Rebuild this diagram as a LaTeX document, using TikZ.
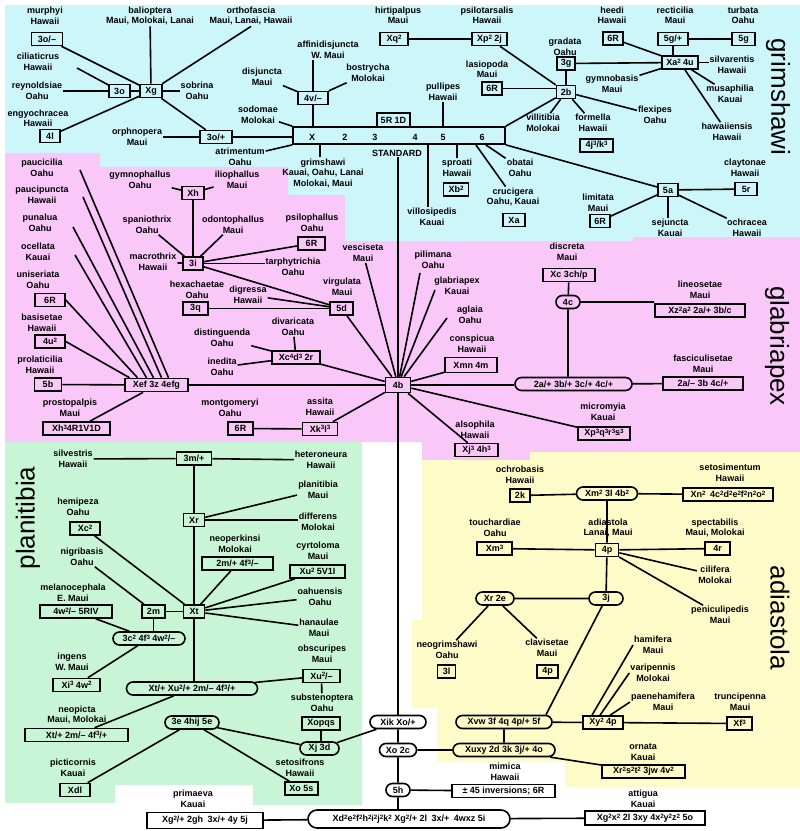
\documentclass[tikz,border=0pt]{standalone}
\usepackage{fontspec}
\setmainfont{Liberation Sans}
\usetikzlibrary{shapes.misc}
\newcommand\spx[1]{\raisebox{0.5ex}{\fontsize{6.2}{6.2}\selectfont #1}}
\newcommand\dlab{\bfseries\fontsize{9}{10.5}\selectfont}
\newcommand\grpfont{\fontsize{26}{26}\selectfont}
\definecolor{cyanbg}{RGB}{204,246,250}
\definecolor{pinkbg}{RGB}{249,200,249}
\definecolor{greenbg}{RGB}{200,245,214}
\definecolor{yellowbg}{RGB}{253,251,200}
\begin{document}
\begin{tikzpicture}[x=1pt,y=-1pt,
  lbl/.style={font=\dlab, align=center, inner sep=1pt},
  bx/.style={draw, line width=1.6pt, font=\dlab, inner xsep=2pt, inner ysep=1pt, minimum height=13pt},
  ov/.style={draw, rounded rectangle, line width=1.6pt, font=\dlab, inner xsep=3pt, inner ysep=1pt, minimum height=13pt},
  ln/.style={line width=1.6pt},
  grp/.style={font=\grpfont, inner sep=0pt}]
\useasboundingbox (0,0) rectangle (800,831);

% species-group backgrounds
\fill[cyanbg] (5,5) -- (800,5) -- (800,237) -- (633,237) -- (633,241) -- (345,241) -- (345,195) -- (288,195) -- (288,167) -- (100,167) -- (100,153) -- (5,153) -- cycle;
\fill[pinkbg] (5,153) -- (100,153) -- (100,167) -- (288,167) -- (288,195) -- (345,195) -- (345,241) -- (633,241) -- (633,237) -- (800,237) -- (800,452) -- (530,452) -- (530,460) -- (422,460) -- (422,442) -- (5,442) -- cycle;
\fill[greenbg] (5,442) -- (362,442) -- (362,805) -- (253,805) -- (253,785) -- (115,785) -- (115,803) -- (5,803) -- cycle;
\fill[yellowbg] (422,460) -- (530,460) -- (530,452) -- (800,452) -- (800,787) -- (565,787) -- (565,762) -- (437,762) -- (437,708) -- (412,708) -- (412,620) -- (422,620) -- cycle;

% group names
\node[grp,rotate=-90] (ggrim) at (778,97) {grimshawi};
\node[grp,rotate=-90] (gglab) at (777,346) {glabriapex};
\node[grp,rotate=-90] (gadia) at (780,618) {adiastola};
\node[grp,rotate=90] (gplan) at (28,518) {planitibia};

% ---------------- grimshawi ----------------
\node[lbl] (lmurphyi) at (45,16) {murphyi\\Hawaii};
\node[bx,minimum width=31pt] (bmurphyi) at (47,39) {3o/--};
\node[lbl] (lbalioptera) at (150,16) {balioptera\\Maui, Molokai, Lanai};
\node[lbl] (lorthofascia) at (251,16) {orthofascia\\Maui, Lanai, Hawaii};
\node[lbl] (lciliaticrus) at (38,62) {ciliaticrus\\Hawaii};
\node[lbl] (lreynoldsiae) at (37,91) {reynoldsiae\\Oahu};
\node[bx,minimum width=21pt] (bthreeo) at (119.5,91) {3o};
\node[bx,minimum width=22pt] (bxg) at (151,91) {Xg};
\node[lbl] (lsobrina) at (197,91) {sobrina\\Oahu};
\node[lbl] (lengyochracea) at (38,118.5) {engyochracea\\Hawaii};
\node[bx,minimum width=20pt] (bfourl) at (50,136) {4l};
\node[lbl] (lorphnopera) at (137,137) {orphnopera\\Maui};
\node[bx,minimum width=32pt] (bthreeop) at (216,137) {3o/+};
\node[lbl] (latrimentum) at (240,157) {atrimentum\\Oahu};
\node[lbl] (lsodomae) at (258,115) {sodomae\\Molokai};
\node[lbl] (ldisjuncta) at (262,77) {disjuncta\\Maui};
\node[lbl] (laffinis) at (328,50) {affinidisjuncta\\W. Maui};
\node[bx,minimum width=30pt] (bfourv) at (313,98) {4v/--};
\node[lbl] (lbostrycha) at (368,73) {bostrycha\\Molokai};
\node[lbl] (lhirtipalpus) at (398,15.5) {hirtipalpus\\Maui};
\node[bx,minimum width=28pt] (bxq) at (394,39) {Xq\spx{2}};
\node[lbl] (lpsilotarsalis) at (487,15.5) {psilotarsalis\\Hawaii};
\node[bx,minimum width=35pt] (bxp) at (489.5,39) {Xp\spx{2} 2j};
\node[lbl] (llasiopoda) at (487,69.5) {lasiopoda\\Maui};
\node[bx,minimum width=20pt] (blasio) at (492,88.5) {6R};
\node[lbl] (lpullipes) at (443,92) {pullipes\\Hawaii};

% the standard chromosome bar
\node[draw,line width=1.8pt,minimum width=212pt,minimum height=17pt,inner sep=0pt] (bar) at (399,135.5) {};
\node[font=\dlab] (barx) at (312,137) {X};
\node[font=\dlab] (bartwo) at (345,137) {2};
\node[font=\dlab] (barthree) at (375,137) {3};
\node[font=\dlab] (barfour) at (415,137) {4};
\node[font=\dlab] (barfive) at (443,137) {5};
\node[font=\dlab] (barsix) at (482,137) {6};
\node[bx,minimum width=33pt,minimum height=14pt] (bfiveR) at (393.5,120) {5R 1D};
\node[lbl] (lstandard) at (397,153) {STANDARD};

\node[lbl] (lgrimshawi) at (323,173) {grimshawi\\Kauai, Oahu, Lanai\\Molokai, Maui};
\node[lbl] (lsproati) at (457,168) {sproati\\Hawaii};
\node[bx,minimum width=25pt] (bxb) at (456,189.5) {Xb\spx{2}};
\node[lbl] (lobatai) at (520,168) {obatai\\Oahu};
\node[lbl] (lcrucigera) at (513,197) {crucigera\\Oahu, Kauai};
\node[bx,minimum width=22pt] (bxa) at (514,220) {Xa};
\node[lbl] (lvillosipedis) at (432,217) {villosipedis\\Kauai};
\node[lbl] (lvillitibia) at (543,123) {villitibia\\Molokai};
\node[bx,minimum width=19pt] (btwob) at (566,92) {2b};
\node[lbl] (lgradata) at (565,47) {gradata\\Oahu};
\node[bx,minimum width=18pt] (bthreeg) at (566,63.5) {3g};
\node[lbl] (lheedi) at (612,15.5) {heedi\\Hawaii};
\node[bx,minimum width=20pt] (bheedi) at (613,38.5) {6R};
\node[lbl] (lrecticilia) at (675,15.5) {recticilia\\Maui};
\node[bx,minimum width=30pt] (bfivegp) at (673,39) {5g/+};
\node[lbl] (lturbata) at (743,15.5) {turbata\\Oahu};
\node[bx,minimum width=23pt] (bfiveg) at (743.5,39) {5g};
\node[bx,minimum width=36pt] (bxatwo) at (680,62.5) {Xa\spx{2} 4u};
\node[lbl] (lsilvarentis) at (732,65) {silvarentis\\Hawaii};
\node[lbl] (lgymnobasis) at (612,84) {gymnobasis\\Maui};
\node[lbl] (lmusaphilia) at (730,94) {musaphilia\\Kauai};
\node[lbl] (lhawaiiensis) at (727,132) {hawaiiensis\\Hawaii};
\node[lbl] (lformella) at (593,123) {formella\\Hawaii};
\node[bx,minimum width=33pt] (bfourj) at (596.5,145.5) {4j\spx{3}/k\spx{3}};
\node[lbl] (lflexipes) at (655,115) {flexipes\\Oahu};
\node[lbl] (lclaytonae) at (745,168) {claytonae\\Hawaii};
\node[bx,minimum width=22pt] (bfiver) at (746,189) {5r};
\node[bx,minimum width=20pt] (bfivea) at (668,190) {5a};
\node[lbl] (llimitata) at (598,203) {limitata\\Maui};
\node[bx,minimum width=20pt] (blimitata) at (600,221) {6R};
\node[lbl] (lsejuncta) at (670,228) {sejuncta\\Kauai};
\node[lbl] (lochracea) at (747,228) {ochracea\\Hawaii};

% ---------------- glabriapex ----------------
\node[lbl] (lpaucicilia) at (42,168) {paucicilia\\Oahu};
\node[lbl] (lpaucipuncta) at (42,195) {paucipuncta\\Hawaii};
\node[lbl] (lpunalua) at (40,223) {punalua\\Oahu};
\node[lbl] (locellata) at (38,252) {ocellata\\Kauai};
\node[lbl] (luniseriata) at (38,280) {uniseriata\\Oahu};
\node[bx,minimum width=30pt] (buniseriata) at (50,300) {6R};
\node[lbl] (lbasisetae) at (42,323) {basisetae\\Hawaii};
\node[bx,minimum width=30pt] (bfouru) at (50,341.5) {4u\spx{2}};
\node[lbl] (lprolaticilia) at (40,365) {prolaticilia\\Hawaii};
\node[bx,minimum width=27pt] (bfiveb) at (48,384.5) {5b};
\node[bx,minimum width=63pt] (bxef) at (156.5,385) {Xef 3z 4efg};
\node[lbl] (lprostopalpis) at (70,408) {prostopalpis\\Maui};
\node[bx,minimum width=67pt] (bxhthree) at (76.5,428.5) {Xh\spx{3}4R1V1D};
\node[lbl] (lgymnophallus) at (140,180) {gymnophallus\\Oahu};
\node[bx,minimum width=22pt] (bxh) at (193,193) {Xh};
\node[lbl] (liliophallus) at (237,180) {iliophallus\\Maui};
\node[lbl] (lspaniothrix) at (147,225) {spaniothrix\\Oahu};
\node[lbl] (lodontophallus) at (233,225) {odontophallus\\Maui};
\node[lbl] (lmacrothrix) at (153,262) {macrothrix\\Hawaii};
\node[bx,minimum width=20pt] (bthreei) at (193,263.5) {3i};
\node[lbl] (lpsilophallus) at (312,223) {psilophallus\\Oahu};
\node[bx,minimum width=27pt] (bpsilo) at (311.5,243.5) {6R};
\node[lbl] (ltarphy) at (293,267) {tarphytrichia\\Oahu};
\node[lbl] (lhexachaetae) at (197,290) {hexachaetae\\Oahu};
\node[bx,minimum width=25pt] (bthreeq) at (195.5,308.5) {3q};
\node[lbl] (ldigressa) at (248,295) {digressa\\Hawaii};
\node[lbl] (lvesciseta) at (363,253) {vesciseta\\Maui};
\node[lbl] (lvirgulata) at (342,287) {virgulata\\Maui};
\node[bx,minimum width=23pt] (bfived) at (341.5,308.5) {5d};
\node[lbl] (ldivaricata) at (293,327) {divaricata\\Oahu};
\node[bx,minimum width=48pt] (bxcfour) at (296,357.5) {Xc\spx{4}d\spx{3} 2r};
\node[lbl] (ldistinguenda) at (222,338) {distinguenda\\Oahu};
\node[lbl] (linedita) at (222,367) {inedita\\Oahu};
\node[lbl] (lmontgomeryi) at (230,408) {montgomeryi\\Oahu};
\node[bx,minimum width=25pt] (bmontgomeryi) at (240.5,428.5) {6R};
\node[lbl] (lassita) at (320,407) {assita\\Hawaii};
\node[bx,minimum width=35pt] (bxk) at (320,429) {Xk\spx{3}l\spx{3}};
\node[bx,minimum width=25pt,minimum height=15pt] (bfourb) at (398,385) {4b};
\node[lbl] (lpilimana) at (433,260) {pilimana\\Oahu};
\node[lbl] (lglabriapex) at (457,286) {glabriapex\\Kauai};
\node[lbl] (laglaia) at (470,315) {aglaia\\Oahu};
\node[lbl] (lconspicua) at (472,344) {conspicua\\Hawaii};
\node[bx,minimum width=52pt,minimum height=15pt] (bxmn) at (471,365) {Xmn 4m};
\node[lbl] (ldiscreta) at (567,252) {discreta\\Maui};
\node[bx,minimum width=52pt] (bxcthree) at (569,275) {Xc 3ch/p};
\node[ov,minimum width=30pt] (ofourc) at (568,302) {4c};
\node[lbl] (llineosetae) at (700,290) {lineosetae\\Maui};
\node[bx,minimum width=90pt] (bxz) at (700,310.5) {Xz\spx{2}a\spx{2} 2a/+ 3b/c};
\node[ov,minimum width=123pt] (otwoa) at (573.5,384) {2a/+ 3b/+ 3c/+ 4c/+};
\node[lbl] (lfascic) at (703,364) {fasciculisetae\\Maui};
\node[bx,minimum width=80pt] (btwoam) at (703,383.5) {2a/-- 3b 4c/+};
\node[lbl] (lmicromyia) at (603,412) {micromyia\\Kauai};
\node[bx,minimum width=52pt] (bxpthree) at (604,433.5) {Xp\spx{3}q\spx{3}r\spx{3}s\spx{3}};
\node[lbl] (lalsophila) at (475,430) {alsophila\\Hawaii};
\node[bx,minimum width=43pt] (bxjthree) at (476.5,450) {Xj\spx{3} 4h\spx{3}};

% ---------------- planitibia ----------------
\node[lbl] (lsilvestris) at (73,459) {silvestris\\Hawaii};
\node[bx,minimum width=35pt] (bthreem) at (194,458.5) {3m/+};
\node[lbl] (lheteroneura) at (321,460) {heteroneura\\Hawaii};
\node[lbl] (lhemipeza) at (78,507) {hemipeza\\Oahu};
\node[bx,minimum width=30pt] (bxctwo) at (85,528.5) {Xc\spx{2}};
\node[bx,minimum width=21pt] (bxr) at (194,520) {Xr};
\node[lbl] (lplanitibia) at (318,490) {planitibia\\Maui};
\node[lbl] (ldifferens) at (318,522) {differens\\Molokai};
\node[lbl] (lnigribasis) at (82,557) {nigribasis\\Oahu};
\node[lbl] (lneoperkinsi) at (235,544) {neoperkinsi\\Molokai};
\node[bx,minimum width=71pt] (btwom) at (237.5,563.5) {2m/+ 4f\spx{3}/--};
\node[lbl] (lcyrtoloma) at (318,551) {cyrtoloma\\Maui};
\node[bx,minimum width=55pt] (bxutwo) at (317.5,571.5) {Xu\spx{2} 5V1I};
\node[lbl] (lmelano) at (73,593) {melanocephala\\E. Maui};
\node[bx,minimum width=72pt] (bfourw) at (76,611.5) {4w\spx{2}/-- 5RIV};
\node[bx,minimum width=23pt] (btwomb) at (153.5,611.5) {2m};
\node[bx,minimum width=21pt] (bxt) at (194,611.5) {Xt};
\node[lbl] (loahuensis) at (320,597) {oahuensis\\Oahu};
\node[lbl] (lhanaulae) at (319,628) {hanaulae\\Maui};
\node[ov,minimum width=78pt] (othreec) at (149,638.5) {3c\spx{2} 4f\spx{3} 4w\spx{2}/--};
\node[lbl] (lingens) at (72,662) {ingens\\W. Maui};
\node[bx,minimum width=47pt] (bxithree) at (76.5,685) {Xi\spx{3} 4w\spx{2}};
\node[ov,minimum width=137pt] (oxtbig) at (192,688.5) {Xt/+ Xu\spx{2}/+ 2m/-- 4f\spx{3}/+};
\node[lbl] (lobscuripes) at (322,654) {obscuripes\\Maui};
\node[bx,minimum width=37pt] (bxutwom) at (321.5,676) {Xu\spx{2}/--};
\node[lbl] (lsubsteno) at (322,703) {substenoptera\\Oahu};
\node[bx,minimum width=38pt] (bxopqs) at (321,723.5) {Xopqs};
\node[ov,minimum width=45pt] (oxjthreed) at (319.5,748.5) {Xj 3d};
\node[ov,minimum width=60pt] (othreee) at (192,722.5) {3e 4hij 5e};
\node[lbl] (lneopicta) at (77,715) {neopicta\\Maui, Molokai};
\node[bx,minimum width=103pt] (bxtp) at (76.5,735) {Xt/+ 2m/-- 4f\spx{3}/+};
\node[lbl] (lpicticornis) at (73,768) {picticornis\\Kauai};
\node[bx,minimum width=30pt] (bxdl) at (75,790) {Xdl};
\node[lbl] (lsetosifrons) at (300,768) {setosifrons\\Hawaii};
\node[bx,minimum width=33pt] (bxofives) at (301.5,788.5) {Xo 5s};

% ---------------- central stem ----------------
\node[ov,minimum width=62pt] (oxik) at (398,722) {Xik Xo/+};
\node[ov,minimum width=43pt] (oxotwoc) at (398,750) {Xo 2c};
\node[ov,minimum width=30pt] (ofiveh) at (398,790) {5h};
\node[lbl] (lmimica) at (505,772) {mimica\\Hawaii};
\node[bx,minimum width=103pt] (binv) at (503.5,791) {± 45 inversions; 6R};
\node[ov,minimum width=208pt,minimum height=18pt] (obottom) at (409,819) {Xd\spx{2}e\spx{2}f\spx{2}h\spx{2}i\spx{2}j\spx{2}k\spx{2} Xg\spx{2}/+ 2l\enspace 3x/+\enspace 4wxz 5i};
\node[lbl] (lprimaeva) at (193,799) {primaeva\\Kauai};
\node[bx,minimum width=116pt,minimum height=16pt] (bprimaeva) at (205,820.5) {Xg\spx{2}/+ 2gh\enspace 3x/+ 4y 5j};
\node[lbl] (lattigua) at (643,799) {attigua\\Kauai};
\node[bx,minimum width=120pt,minimum height=14pt] (battigua) at (645,818) {Xg\spx{2}x\spx{2} 2l 3xy 4x\spx{2}y\spx{2}z\spx{2} 5o};

% ---------------- adiastola ----------------
\node[lbl] (lochrobasis) at (520,475) {ochrobasis\\Hawaii};
\node[bx,minimum width=20pt] (btwok) at (520,495.5) {2k};
\node[ov,minimum width=67pt] (oxmtwo) at (607,493.5) {Xm\spx{2} 3l 4b\spx{2}};
\node[lbl] (lsetosimentum) at (730,473) {setosimentum\\Hawaii};
\node[bx,minimum width=90pt] (bxntwo) at (728,494.5) {Xn\spx{2}\enspace 4c\spx{2}d\spx{2}e\spx{2}f\spx{2}n\spx{2}o\spx{2}};
\node[lbl] (ltouchardiae) at (495,528) {touchardiae\\Oahu};
\node[bx,minimum width=35pt] (bxmthree) at (494.5,548.5) {Xm\spx{3}};
\node[lbl] (ladiastola) at (608,528) {adiastola\\Lanai, Maui};
\node[bx,minimum width=23pt] (bfourp) at (607,550) {4p};
\node[lbl] (lspectabilis) at (715,528) {spectabilis\\Maui, Molokai};
\node[bx,minimum width=25pt] (bfourr) at (717.5,548.5) {4r};
\node[lbl] (lcilifera) at (715,575) {cilifera\\Molokai};
\node[lbl] (lpenicul) at (720,615) {peniculipedis\\Maui};
\node[ov,minimum width=44pt] (oxrtwoe) at (495,598.5) {Xr 2e};
\node[ov,minimum width=40pt] (othreej) at (606,598.5) {3j};
\node[lbl] (lneogrim) at (447,650) {neogrimshawi\\Oahu};
\node[bx,minimum width=18pt] (bthreel) at (446.5,671.5) {3l};
\node[lbl] (lclavisetae) at (547,648) {clavisetae\\Maui};
\node[bx,minimum width=21pt] (bfourpb) at (547.5,671.5) {4p};
\node[lbl] (lhamifera) at (653,645) {hamifera\\Maui};
\node[lbl] (lvaripennis) at (653,673) {varipennis\\Molokai};
\node[lbl] (lpaene) at (663,702) {paenehamifera\\Maui};
\node[lbl] (ltruncipenna) at (740,702) {truncipenna\\Maui};
\node[ov,minimum width=102pt] (oxvw) at (504,722) {Xvw 3f 4q 4p/+ 5f};
\node[bx,minimum width=40pt] (bxytwo) at (603,722.5) {Xy\spx{2} 4p};
\node[bx,minimum width=25pt] (bxfthree) at (739.5,723.5) {Xf\spx{3}};
\node[ov,minimum width=108pt] (oxuxy) at (504,750) {Xuxy 2d 3k 3j/+ 4o};
\node[lbl] (lornata) at (643,752) {ornata\\Kauai};
\node[bx,minimum width=83pt] (bornata) at (643.5,771.5) {Xr\spx{2}s\spx{2}t\spx{2} 3jw 4v\spx{2}};

% ---------------- connectors: grimshawi ----------------
\draw[ln] (bmurphyi) -- (bxg);
\draw[ln] (lbalioptera) -- (bxg);
\draw[ln] (lorthofascia.south) -- (bxg);
\draw[ln] ([shift={(39,6)}]lciliaticrus.center) -- (bthreeo);
\draw[ln] (lreynoldsiae) -- (bthreeo);
\draw[ln] (bthreeo) -- (bxg);
\draw[ln] (bxg) -- (lsobrina);
\draw[ln] (bfourl) -- (bxg);
\draw[ln] (bxg) -- (bthreeop);
\draw[ln] (lorphnopera) -- (bthreeop);
\draw[ln] (bthreeop) -- (bthreeop -| bar.west);
\draw[ln] (lsodomae) -- (bar.north west);
\draw[ln] (latrimentum) -- (bar.south west);
\draw[ln] (ldisjuncta) -- (bfourv);
\draw[ln] (laffinis.south -| bfourv) -- (bfourv);
\draw[ln] (bfourv) -- (lbostrycha);
\draw[ln] (bfourv) -- (bfourv |- bar.north);
\draw[ln] (bxq) -- (bxp);
\draw[ln] (bxp) -- (btwob);
\draw[ln] (blasio) -- (blasio -| btwob.west);
\draw[ln] (lpullipes) -- (lpullipes |- bar.north);
\draw[ln] (bar.north east) -- (btwob);
\draw[ln] (bthreeg) -- (btwob);
\draw[ln] (bthreeg) -- (bxatwo);
\draw[ln] (bheedi) -- (bxatwo);
\draw[ln] (bfivegp) -- (bfivegp |- bxatwo.north);
\draw[ln] (bfivegp) -- (bfiveg);
\draw[ln] (bxatwo) -- (bxatwo -| lsilvarentis.west);
\draw[ln] (bxatwo) -- (lgymnobasis);
\draw[ln] (bxatwo) -- (lmusaphilia);
\draw[ln] (bxatwo) -- (lhawaiiensis);
\draw[ln] (btwob) -- (lvillitibia);
\draw[ln] (btwob) -- (lformella);
\draw[ln] (btwob) -- (lflexipes);
\coordinate (grimtop) at ([xshift=-3pt]lgrimshawi.north);
\draw[ln] (grimtop) -- (grimtop |- bar.south);
\draw[ln] (lsproati.north) -- (lsproati.north |- bar.south);
\coordinate (villtop) at ([xshift=-4pt]lvillosipedis.north);
\draw[ln] (villtop) -- (villtop |- bar.south);
\draw[ln] ([xshift=-30pt]bar.south east) -- (lcrucigera);
\draw[ln] ([xshift=-20pt]bar.south east) -- (lobatai);
\draw[ln] (bar.south east) -- (bfivea);
\draw[ln] (bfivea) -- (bfiver);
\draw[ln] (blimitata) -- (bfivea);
\draw[ln] (bfivea) -- (bfivea |- lsejuncta.north);
\draw[ln] (bfivea) -- (lochracea);

% ---------------- connectors: glabriapex ----------------
\draw[ln] (lstandard.south -| bfourb) -- (bfourb);
\draw[ln] ([shift={(38,2)}]lpaucicilia.center) -- ([xshift=12pt]bxef.north);
\draw[ln] ([shift={(41,2)}]lpaucipuncta.center) -- ([xshift=5pt]bxef.north);
\draw[ln] ([shift={(33,4)}]lpunalua.center) -- ([xshift=-3pt]bxef.north);
\draw[ln] ([shift={(37,3)}]locellata.center) -- ([xshift=-10pt]bxef.north);
\draw[ln] (buniseriata.east) -- ([xshift=-19pt]bxef.north);
\draw[ln] (bfouru.east) -- ([xshift=-27pt]bxef.north);
\draw[ln] (bfiveb) -- (bxef);
\draw[ln] (bxef) -- (bxhthree);
\draw[ln] (bxef) -- (bfourb);
\draw[ln] (bxh) -- (bthreei);
\draw[ln] (lgymnophallus) -- (bxh);
\draw[ln] (bxh) -- (liliophallus);
\draw[ln] (lspaniothrix) -- (bthreei);
\draw[ln] (bthreei) -- (lodontophallus);
\draw[ln] (lmacrothrix) -- (bthreei);
\draw[ln] (bthreei) -- (bthreei -| ltarphy.west);
\draw[ln] (bthreei) -- (bpsilo);
\draw[ln] (bthreei) -- (bfived);
\draw[ln] (bthreeq) -- (bfived);
\draw[ln] (ldigressa) -- (bfived);
\draw[ln] (lvesciseta) -- (bfourb);
\draw[ln] (bfived) -- (bfourb);
\draw[ln] ([shift={(-13,13)}]lpilimana.center) -- (bfourb);
\draw[ln] ([shift={(-22,4)}]lglabriapex.center) -- (bfourb);
\draw[ln] ([shift={(-23,3)}]laglaia.center) -- (bfourb);
\draw[ln] (bxmn) -- (bfourb);
\draw[ln] (ldivaricata) -- (bxcfour);
\draw[ln] (ldistinguenda) -- (bxcfour);
\draw[ln] (linedita) -- (bxcfour);
\draw[ln] (bxcfour) -- (bfourb);
\draw[ln] (bmontgomeryi) -- (bxk);
\draw[ln] (bxk) -- (bfourb);
\draw[ln] (bfourb) -- (bfourb -| otwoa.west);
\draw[ln] (bfourb) -- (bxpthree);
\draw[ln] (bfourb) -- (bxjthree);
\draw[ln] (bxcthree) -- (ofourc);
\draw[ln] (ofourc) -- (ofourc |- otwoa.north);
\draw[ln] (ofourc) -- (ofourc -| bxz.west);
\draw[ln] (otwoa) -- (btwoam);

% ---------------- connectors: planitibia ----------------
\draw[ln] (lsilvestris) -- (bthreem);
\draw[ln] (bthreem) -- (lheteroneura);
\draw[ln] (bthreem) -- (bxr);
\draw[ln] (bxr) -- (bxt);
\draw[ln] (bxr) -- (lplanitibia);
\draw[ln] (bxr) -- (bxr -| ldifferens.west);
\draw[ln] (bxctwo) -- (bxt);
\draw[ln] (lnigribasis) -- (btwomb);
\draw[ln] (btwom) -- (bxt);
\draw[ln] (bxt) -- (bxutwo);
\draw[ln] (bxt) -- (loahuensis);
\draw[ln] (bxt) -- (lhanaulae);
\draw[ln] (btwomb) -- (bxt);
\draw[ln] (bfourw) -- (othreec);
\draw[ln] (btwomb) -- (btwomb |- othreec.north);
\draw[ln] (bxithree) -- (othreec);
\draw[ln] (bxt) -- (bxt |- oxtbig.north);
\draw[ln] (oxtbig) -- (bxutwom);
\draw[ln] (bxtp) -- (oxtbig);
\draw[ln] (bxutwom) -- (lsubsteno);
\draw[ln] (bxopqs) -- (bxopqs |- oxjthreed.north);
\draw[ln] (othreee) -- (oxjthreed);
\draw[ln] (othreee) -- (bxofives);
\draw[ln] (bxdl) -- (othreee);
\draw[ln] (oxjthreed) -- (oxik);

% ---------------- connectors: central stem ----------------
\draw[ln] (bfourb) -- (oxik);
\draw[ln] (oxik) -- (oxotwoc);
\draw[ln] (oxotwoc) -- (ofiveh);
\draw[ln] (ofiveh) -- (ofiveh |- obottom.north);
\draw[ln] (oxotwoc) -- (oxuxy);
\draw[ln] (ofiveh) -- (binv);
\draw[ln] (bprimaeva) -- (obottom);
\draw[ln] (obottom) -- (battigua);

% ---------------- connectors: adiastola ----------------
\draw[ln] (btwok) -- (oxmtwo);
\draw[ln] (oxmtwo) -- (bxntwo);
\draw[ln] (oxmtwo) -- (bfourp);
\draw[ln] (bxmthree) -- (bfourp);
\draw[ln] (bfourp) -- (bfourr);
\draw[ln] (bfourp) -- (lcilifera);
\draw[ln] (bfourp) -- (lpenicul);
\draw[ln] (bfourp) -- (othreej);
\draw[ln] (oxrtwoe) -- (othreej);
\draw[ln] (oxrtwoe) -- (lneogrim);
\draw[ln] (oxrtwoe) -- (lclavisetae);
\draw[ln] (othreej) -- ([xshift=42pt]oxvw.north);
\draw[ln] (oxvw) -- (oxuxy);
\draw[ln] (oxvw) -- (bxytwo);
\draw[ln] (bxytwo) -- (bxfthree);
\draw[ln] ([xshift=-11pt]bxytwo.north) -- (lhamifera.west);
\draw[ln] ([xshift=-3pt]bxytwo.north) -- (lvaripennis.west);
\draw[ln] ([xshift=7pt]bxytwo.north) -- (lpaene.west);
\draw[ln] (oxuxy) -- (bornata);
\end{tikzpicture}
\end{document}
